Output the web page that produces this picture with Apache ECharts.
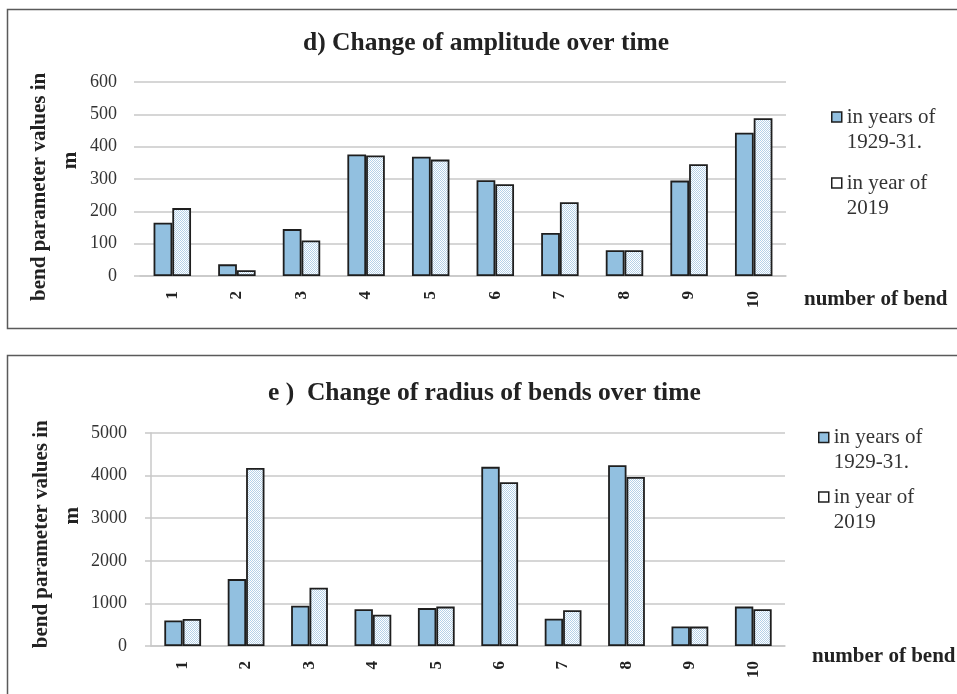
<!DOCTYPE html>
<html>
<head>
<meta charset="utf-8">
<script src="https://cdn.jsdelivr.net/npm/echarts@6/dist/echarts.min.js"></script>
<style>
html,body{margin:0;padding:0;background:#fff;}
#chart{width:957px;height:694px;}
</style>
</head>
<body>
<div id="chart"></div>
<script>
// ---- data ----
const categories = ['1','2','3','4','5','6','7','8','9','10'];
const seriesNames = ['in years of 1929-31.', 'in year of 2019'];
const legendLabels = ['in years of\n1929-31.', 'in year of\n2019'];
const amplitude1929 = [165, 36, 145, 376, 369, 296, 133, 80, 295, 443];
const amplitude2019 = [210, 18, 110, 373, 360, 284, 228, 80, 346, 488];
const radius1929 = [600, 1570, 945, 865, 890, 4205, 640, 4245, 460, 925];
const radius2019 = [635, 4180, 1370, 735, 925, 3845, 840, 3970, 455, 865];
const titles = ['d) Change of amplitude over time', 'e )  Change of radius of bends over time'];
const yAxisNameLines = ['bend parameter values in', 'm'];
const xAxisName = 'number of bend';

// ---- styles ----
const FONT = 'Liberation Serif';
const BLUE = '#92c0e0';
const EDGE = '#1e1e1e';
const GRIDC = '#c8c8c8';
const TXT = '#333333';

const pc = document.createElement('canvas');
pc.width = 2; pc.height = 2;
const pctx = pc.getContext('2d');
pctx.fillStyle = '#ffffff'; pctx.fillRect(0,0,2,2);
pctx.fillStyle = '#b5d1e8'; pctx.fillRect(0,0,1,1); pctx.fillRect(1,1,1,1);
const HATCH = {image: pc, repeat: 'repeat'};

const chart = echarts.init(document.getElementById('chart'), null, {renderer:'canvas'});

const sp = n => ' '.repeat(n);

function yAxis(gi, max, interval, showLine, labelMargin, nameGap, name){
  return {
    type:'value', gridIndex:gi, min:0, max:max, interval:interval,
    axisLine:{show:showLine, lineStyle:{color:GRIDC, width:1.5}},
    axisTick:{show:true, length:6, lineStyle:{color:GRIDC, width:1.5}},
    splitLine:{lineStyle:{color:GRIDC, width:1.5}},
    axisLabel:{fontFamily:FONT, fontSize:18, color:TXT, margin:labelMargin, formatter: v => String(v)},
    name:name, nameLocation:'middle', nameRotate:90, nameGap:nameGap, nameMoveOverlap:false,
    nameTextStyle:{fontFamily:FONT, fontSize:21, fontWeight:'bold', color:'#222', lineHeight:31}
  };
}
function xAxis(gi, nameGap, blankLines, lh){
  return {
    type:'category', gridIndex:gi, data:categories,
    axisLine:{show:true, lineStyle:{color:GRIDC, width:1.5}},
    axisTick:{show:false},
    axisLabel:{rotate:90, fontFamily:FONT, fontSize:17, fontWeight:'bold', color:'#222', margin:15},
    name:'\n'.repeat(blankLines) + xAxisName, nameLocation:'end', nameGap:nameGap, nameMoveOverlap:false,
    nameTextStyle:{fontFamily:FONT, fontSize:21, fontWeight:'bold', color:'#222', lineHeight:lh, align:'left'}
  };
}
function bars(name, data, gi, color){
  return {
    type:'bar', name:name, data:data, xAxisIndex:gi, yAxisIndex:gi,
    barGap:'0%', barCategoryGap:'42%',
    itemStyle:{color:color, borderColor:EDGE, borderWidth:1.8},
    emphasis:{disabled:true}, animation:false
  };
}
function legend(name, left, top, white){
  return {
    left:left, top:top, orient:'vertical', padding:0,
    itemWidth:10, itemHeight:10, icon:'rect',
    data:[{name:name, itemStyle: white ? {color:'#ffffff', borderColor:EDGE, borderWidth:1.5} : {color:BLUE, borderColor:EDGE, borderWidth:1.5}}],
    formatter: n => '\n' + legendLabels[seriesNames.indexOf(n)],
    textStyle:{fontFamily:FONT, fontSize:21, color:TXT, lineHeight:25},
    selectedMode:false
  };
}

const option = {
  animation:false,
  backgroundColor:'#ffffff',
  graphic:[
    {type:'rect', shape:{x:7.5, y:9.5, width:960, height:319}, style:{fill:null, stroke:'#5a5a5a', lineWidth:1.5}, z:-10},
    {type:'rect', shape:{x:7.5, y:355.5, width:960, height:360}, style:{fill:null, stroke:'#5a5a5a', lineWidth:1.5}, z:-10}
  ],
  title:[
    {text:titles[0], left:303, top:28, padding:0, textStyle:{fontFamily:FONT, fontSize:25.5, fontWeight:'bold', color:'#222', lineHeight:30}},
    {text:titles[1], left:268, top:378, padding:0, textStyle:{fontFamily:FONT, fontSize:25.5, fontWeight:'bold', color:'#222', lineHeight:30}}
  ],
  legend:[
    legend(seriesNames[0], 831, 79.5, false),
    legend(seriesNames[1], 831, 145.5, true),
    legend(seriesNames[0], 818, 400, false),
    legend(seriesNames[1], 818, 459.5, true)
  ],
  grid:[
    {left:140, top:82, width:646, height:194},
    {left:151, top:433, width:634, height:213}
  ],
  xAxis:[xAxis(0, 18, 2, 24), xAxis(1, 27, 1, 21)],
  yAxis:[
    yAxis(0, 600, 100, false, 23, 54, yAxisNameLines[0] + sp(3) + '\n' + sp(7) + yAxisNameLines[1]),
    yAxis(1, 5000, 1000, true, 24, 63, sp(2) + yAxisNameLines[0] + '\n' + sp(9) + yAxisNameLines[1])
  ],
  series:[
    bars(seriesNames[0], amplitude1929, 0, BLUE),
    bars(seriesNames[1], amplitude2019, 0, HATCH),
    bars(seriesNames[0], radius1929, 1, BLUE),
    bars(seriesNames[1], radius2019, 1, HATCH)
  ]
};
chart.setOption(option);
</script>
</body>
</html>
